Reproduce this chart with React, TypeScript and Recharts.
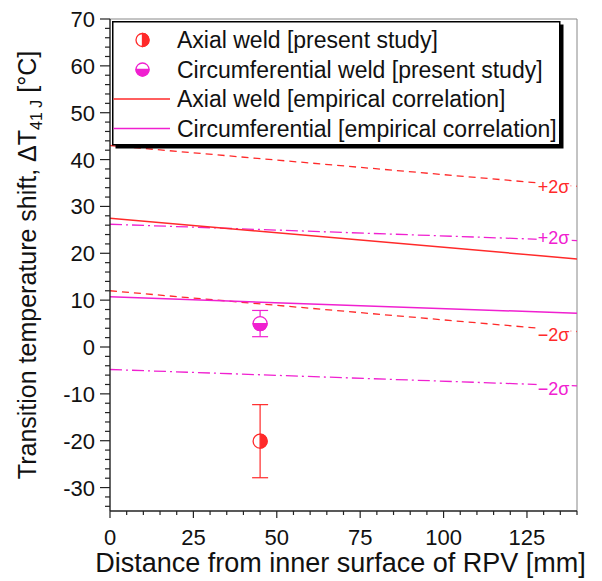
import React from 'react';
import {
  ComposedChart,
  Line,
  Scatter,
  XAxis,
  YAxis,
  ErrorBar,
  ReferenceLine,
  ReferenceDot,
  Legend,
  Label,
} from 'recharts';

const RED = '#ff2a2a';
const MAG = '#f020d0';
const FONT = '"Liberation Sans", Arial, Helvetica, sans-serif';

// Empirical correlation lines, evaluated at the two ends of the x range
const lineX = [0, 140];
const axialMean = [27.5, 18.8];
const axialUpper = [43.0, 34.3];
const axialLower = [12.0, 3.3];
const circMean = [10.7, 7.2];
const circUpper = [26.2, 22.7];
const circLower = [-4.8, -8.3];

// Present-study measurements
const axialPoints = [{ x: 45, y: -20.1, err: 7.8 }];
const circPoints = [{ x: 45, y: 5.0, err: 2.8 }];

// Ticks
const xMajorTicks = [0, 25, 50, 75, 100, 125];
const yMajorTicks = [-30, -20, -10, 0, 10, 20, 30, 40, 50, 60, 70];
const xAllTicks: number[] = [];
for (let v = 0; v <= 140; v += 5) xAllTicks.push(v);
const yAllTicks: number[] = [];
for (let v = -34; v <= 70; v += 2) yAllTicks.push(v);

// ±2σ annotations
const sigmaLabels = [
  { x: 133, y: 34.2, text: '+2σ', color: RED },
  { x: 133, y: 23.3, text: '+2σ', color: MAG },
  { x: 133, y: 2.6, text: '−2σ', color: RED },
  { x: 133, y: -8.9, text: '−2σ', color: MAG },
];

const legendLabels = [
  'Axial weld [present study]',
  'Circumferential weld [present study]',
  'Axial weld [empirical correlation]',
  'Circumferential [empirical correlation]',
];

const toSeries = (vals: number[]) => lineX.map((x, i) => ({ x, y: vals[i] }));

const AXIS = '#222';

const XTick = (props: any) => {
  const { x, y, payload } = props;
  const v = payload.value;
  const major = xMajorTicks.includes(v);
  return (
    <g>
      <line x1={x} x2={x} y1={y} y2={y + (major ? 7 : 4)} stroke={AXIS} strokeWidth={1.2} />
      {major && (
        <text x={x} y={y + 34} textAnchor="middle" fontSize={22} fontFamily={FONT} fill="#111">
          {v}
        </text>
      )}
    </g>
  );
};

const YTick = (props: any) => {
  const { x, y, payload } = props;
  const v = payload.value;
  const major = yMajorTicks.includes(v);
  return (
    <g>
      <line x1={x - (major ? 10 : 5)} x2={x} y1={y} y2={y} stroke={AXIS} strokeWidth={1.2} />
      {major && (
        <text x={x - 15} y={y + 8} textAnchor="end" fontSize={22} fontFamily={FONT} fill="#111">
          {v}
        </text>
      )}
    </g>
  );
};

const halfRight = (cx: number, cy: number, r: number) =>
  `M${cx},${cy - r} A${r},${r} 0 0 1 ${cx},${cy + r} Z`;
const halfBottom = (cx: number, cy: number, r: number) =>
  `M${cx - r},${cy} A${r},${r} 0 0 0 ${cx + r},${cy} Z`;

const AxialMarker = ({ cx, cy, r = 7 }: any) => (
  <g>
    <circle cx={cx} cy={cy} r={r} fill="#fff" stroke={RED} strokeWidth={1.3} />
    <path d={halfRight(cx, cy, r)} fill={RED} stroke={RED} strokeWidth={1.3} />
  </g>
);

const CircMarker = ({ cx, cy, r = 7 }: any) => (
  <g>
    <circle cx={cx} cy={cy} r={r} fill="#fff" stroke={MAG} strokeWidth={1.3} />
    <path d={halfBottom(cx, cy, r)} fill={MAG} stroke={MAG} strokeWidth={1.3} />
  </g>
);

const LegendBox = () => {
  const rows = [19, 48.5, 78, 107.5];
  return (
    <svg width={456} height={132} style={{ display: 'block', overflow: 'visible' }}>
      <rect x={3.5} y={3.5} width={448} height={124} fill="#000" />
      <rect x={0.75} y={0.75} width={447} height={123} fill="#fff" stroke="#000" strokeWidth={1.5} />
      <AxialMarker cx={30.5} cy={rows[0]} r={6.5} />
      <CircMarker cx={30.5} cy={rows[1]} r={6.5} />
      <line x1={1.5} x2={58} y1={rows[2]} y2={rows[2]} stroke={RED} strokeWidth={1.5} />
      <line x1={1.5} x2={58} y1={rows[3]} y2={rows[3]} stroke={MAG} strokeWidth={1.5} />
      {legendLabels.map((t, i) => (
        <text key={i} x={65} y={rows[i] + 8} fontSize={23} fontFamily={FONT} fill="#111">
          {t}
        </text>
      ))}
    </svg>
  );
};

const SigmaLabel = (color: string, text: string) => (props: any) => {
  const { cx, cy } = props;
  return (
    <g>
      <rect x={cx - 17} y={cy - 10} width={34} height={20} fill="#fff" />
      <text x={cx} y={cy + 6} textAnchor="middle" fontSize={18} fontFamily={FONT} fill={color}>
        {text}
      </text>
    </g>
  );
};

const YTitle = (props: any) => {
  const { viewBox } = props;
  const cx = viewBox.x + 36;
  const cy = viewBox.y + viewBox.height / 2;
  return (
    <text
      x={cx}
      y={cy}
      transform={`rotate(-90 ${cx} ${cy})`}
      textAnchor="middle"
      fontSize={25}
      fontFamily={FONT}
      fill="#111"
    >
      Transition temperature shift, ΔT
      <tspan fontSize={16} dy={6}>41 J</tspan>
      <tspan dy={-6}> [°C]</tspan>
    </text>
  );
};

const XTitle = (props: any) => {
  const { viewBox } = props;
  const cx = viewBox.x + viewBox.width / 2 - 3;
  const cy = viewBox.y + 61;
  return (
    <text x={cx} y={cy} textAnchor="middle" fontSize={27} fontFamily={FONT} fill="#111">
      Distance from inner surface of RPV [mm]
    </text>
  );
};

export default function App() {
  return (
    <div>
      <style>{`body{margin:0;}`}</style>
      <ComposedChart
        width={602}
        height={581}
        margin={{ top: 19, right: 25, bottom: 0, left: 0 }}
      >
        <XAxis
          type="number"
          dataKey="x"
          domain={[0, 140]}
          ticks={xAllTicks}
          interval={0}
          tick={<XTick />}
          tickLine={false}
          tickSize={0}
          tickMargin={0}
          height={70}
          stroke={AXIS}
          strokeWidth={1.4}
          allowDataOverflow
        >
          <Label content={<XTitle />} />
        </XAxis>
        <YAxis
          type="number"
          dataKey="y"
          domain={[-35, 70]}
          ticks={yAllTicks}
          interval={0}
          tick={<YTick />}
          tickLine={false}
          tickSize={0}
          tickMargin={0}
          width={110}
          stroke={AXIS}
          strokeWidth={1.4}
          allowDataOverflow
        >
          <Label content={<YTitle />} />
        </YAxis>
        <ReferenceLine y={70} stroke="#888" strokeWidth={1} />
        <ReferenceLine x={140} stroke="#888" strokeWidth={1} />

        <Line data={toSeries(axialUpper)} dataKey="y" stroke={RED} strokeWidth={1.3} strokeDasharray="7 5" dot={false} isAnimationActive={false} legendType="none" />
        <Line data={toSeries(axialLower)} dataKey="y" stroke={RED} strokeWidth={1.3} strokeDasharray="7 5" dot={false} isAnimationActive={false} legendType="none" />
        <Line data={toSeries(circUpper)} dataKey="y" stroke={MAG} strokeWidth={1.3} strokeDasharray="12 4 2 4" dot={false} isAnimationActive={false} legendType="none" />
        <Line data={toSeries(circLower)} dataKey="y" stroke={MAG} strokeWidth={1.3} strokeDasharray="12 4 2 4" dot={false} isAnimationActive={false} legendType="none" />
        <Line data={toSeries(axialMean)} dataKey="y" name={legendLabels[2]} stroke={RED} strokeWidth={1.5} dot={false} isAnimationActive={false} />
        <Line data={toSeries(circMean)} dataKey="y" name={legendLabels[3]} stroke={MAG} strokeWidth={1.5} dot={false} isAnimationActive={false} />

        {sigmaLabels.map((s, i) => (
          <ReferenceDot key={i} x={s.x} y={s.y} r={0} shape={SigmaLabel(s.color, s.text)} />
        ))}

        <Scatter data={axialPoints} dataKey="y" name={legendLabels[0]} shape={<AxialMarker />} isAnimationActive={false}>
          <ErrorBar dataKey="err" direction="y" width={8} stroke={RED} strokeWidth={1.2} isAnimationActive={false} />
        </Scatter>
        <Scatter data={circPoints} dataKey="y" name={legendLabels[1]} shape={<CircMarker />} isAnimationActive={false}>
          <ErrorBar dataKey="err" direction="y" width={8} stroke={MAG} strokeWidth={1.2} isAnimationActive={false} />
        </Scatter>

        <Legend
          layout="horizontal"
          verticalAlign="middle"
          align="center"
          content={<LegendBox />}
          wrapperStyle={{ position: 'absolute', left: 112, top: 21, width: 456, height: 132 }}
        />
      </ComposedChart>
    </div>
  );
}
